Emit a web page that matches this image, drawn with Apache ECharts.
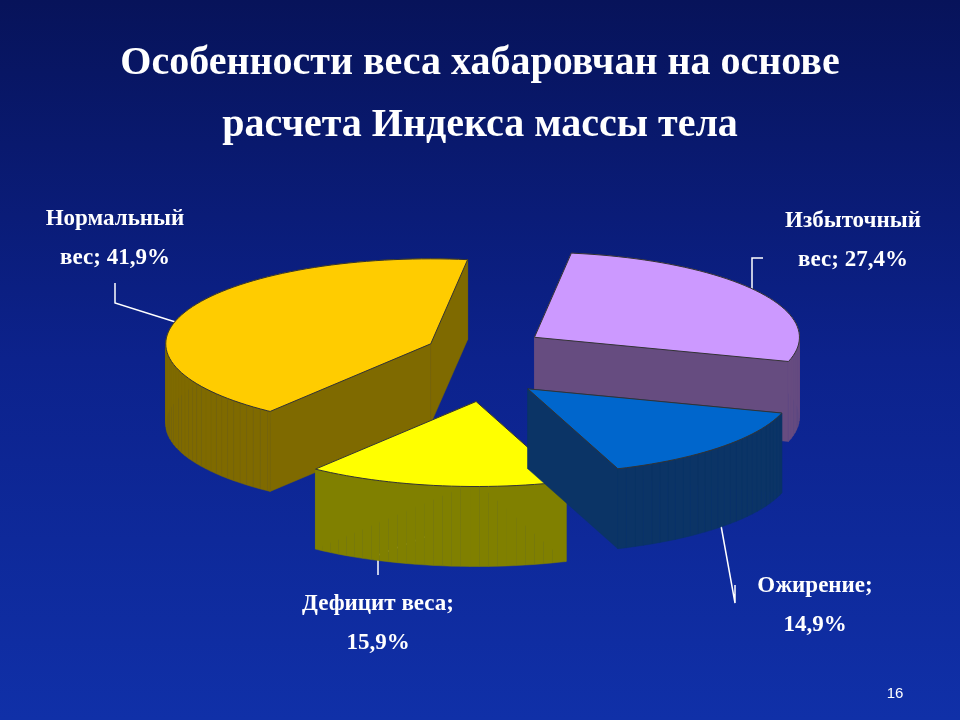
<!DOCTYPE html>
<html lang="ru" style="height: 100%">
<head>
<meta charset="utf-8">
<title>Индекс массы тела</title>
</head>
<body style="height: 100%; margin: 0">
<div id="container" style="height: 100%"></div>
<script type="text/javascript" src="https://cdn.jsdelivr.net/npm/echarts/dist/echarts.min.js"></script>
<script type="text/javascript">
var categories = ['Нормальный вес', 'Дефицит веса', 'Ожирение', 'Избыточный вес'];
var values = [41.9, 15.9, 14.9, 27.4];
var labelTexts = ['Нормальный\nвес; 41,9%', 'Дефицит веса;\n15,9%', 'Ожирение;\n14,9%', 'Избыточный\nвес; 27,4%'];
var topColors = ['#FFCC00', '#FFFF00', '#0066CC', '#CC99FF'];
var sideColors = ['#7F6A00', '#808000', '#0B3466', '#664C80'];
var drawOrder = [0, 3, 1, 2];

var dom = document.getElementById('container');
var myChart = echarts.init(dom);

var cx = 485, cy = 360, rx = 265, ry = 85, depth = 80, explode = 42;
var total = values.reduce(function (a, b) { return a + b; }, 0);
var starts = [];
var acc = 0;
values.forEach(function (v) { starts.push(acc / total * 360 - 8); acc += v; });

function pt(theta, ox, oy) {
  var r = theta * Math.PI / 180;
  return [ox - rx * Math.sin(r), oy - ry * Math.cos(r)];
}

function renderItem(params, api) {
  var i = drawOrder[params.dataIndex];
  var a0 = starts[i];
  var a1 = a0 + values[i] / total * 360;
  var mid = (a0 + a1) / 2 * Math.PI / 180;
  var ox = cx - explode * Math.sin(mid) * 1.4;
  var oy = cy - explode * Math.cos(mid);
  var top = [[ox, oy]];
  for (var a = a0; a < a1; a += 2) top.push(pt(a, ox, oy));
  top.push(pt(a1, ox, oy));
  var faces = [];
  for (var k = 0; k < top.length; k++) {
    var p = top[k], q = top[(k + 1) % top.length];
    faces.push({
      y: Math.max(p[1], q[1]),
      pts: [p, q, [q[0], q[1] + depth], [p[0], p[1] + depth]]
    });
  }
  faces.sort(function (m, n) { return m.y - n.y; });
  var children = faces.map(function (f) {
    return {
      type: 'polygon',
      shape: { points: f.pts },
      style: { fill: sideColors[i], stroke: sideColors[i], lineWidth: 0.5 }
    };
  });
  children.push({
    type: 'polygon',
    shape: { points: top },
    style: { fill: topColors[i], stroke: '#333', lineWidth: 1 }
  });
  return { type: 'group', children: children };
}

var labelPos = [[115, 200], [378, 585], [815, 567], [853, 202]];
var leaders = [
  [[115, 283], [115, 303], [185, 325]],
  [[378, 575], [378, 555], [430, 535]],
  [[735, 585], [735, 603], [720, 520]],
  [[763, 258], [752, 258], [752, 310]]
];
var graphics = [];
labelTexts.forEach(function (t, i) {
  graphics.push({
    type: 'text', x: labelPos[i][0], y: labelPos[i][1],
    style: {
      text: t, fill: '#ffffff', font: 'bold 23px "Liberation Serif"',
      textAlign: 'center', lineHeight: 39
    }
  });
  graphics.push({
    type: 'polyline', shape: { points: leaders[i] },
    style: { stroke: '#ffffff', lineWidth: 1.5, fill: null }
  });
});
graphics.push({
  type: 'text', x: 895, y: 686,
  style: { text: '16', fill: '#ffffff', font: '15px "Liberation Sans"', textAlign: 'center' }
});

var option = {
  backgroundColor: {
    type: 'linear', x: 0, y: 0, x2: 0, y2: 1,
    colorStops: [{ offset: 0, color: '#07135a' }, { offset: 0.5, color: '#0c228c' }, { offset: 1, color: '#1030a8' }]
  },
  title: {
    text: 'Особенности веса хабаровчан на основе\nрасчета Индекса массы тела',
    left: 'center', top: 28,
    textStyle: {
      color: '#ffffff', fontFamily: 'Liberation Serif', fontWeight: 'bold',
      fontSize: 40, lineHeight: 62, align: 'center',
      textShadowColor: '#000000', textShadowOffsetX: 3, textShadowOffsetY: 3, textShadowBlur: 0
    }
  },
  graphic: graphics,
  series: [{
    type: 'custom',
    coordinateSystem: 'none',
    renderItem: renderItem,
    data: drawOrder.map(function (i) { return { name: categories[i], value: values[i] }; }),
    silent: true
  }]
};

myChart.setOption(option);
window.addEventListener('resize', myChart.resize);
</script>
</body>
</html>
